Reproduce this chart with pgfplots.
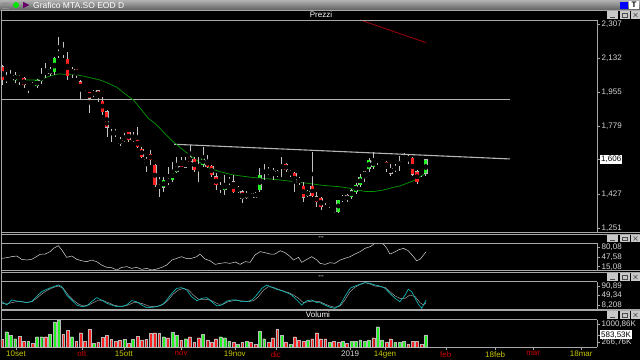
\documentclass[border=0pt]{standalone}
\usepackage{pgfplots}
\pgfplotsset{compat=1.18}
\usepackage{pgfplotstable}
\usepackage{fontspec}
\setmainfont{Liberation Sans}
\definecolor{frame}{HTML}{A8A8A8}
\definecolor{tickc}{HTML}{D8D8D8}
\definecolor{cgreen}{HTML}{22F022}
\definecolor{cred}{HTML}{FF2020}
\definecolor{wick}{HTML}{C4C4C4}
\definecolor{outl}{HTML}{B8B8B8}
\definecolor{mag}{HTML}{009A00}
\definecolor{ylw}{HTML}{C8C800}
\definecolor{mred}{HTML}{D00000}
\definecolor{cyanl}{HTML}{10C8C8}
\definecolor{grayl}{HTML}{A0A0A0}
\definecolor{trend}{HTML}{B4B4B4}
\definecolor{dred}{HTML}{A00010}
\definecolor{btn}{HTML}{C8C8C8}

\pgfplotstableread{
i o h l c v vc
0 2.088 2.095 1.993 2.019 402 0
1 2.022 2.062 2.003 2.025 706 1
2 2.014 2.070 2.010 2.018 562 1
3 2.019 2.062 2.003 2.045 426 1
4 2.040 2.045 1.993 2.019 534 0
5 2.027 2.036 1.976 1.993 334 0
6 1.983 2.000 1.950 1.996 334 1
7 1.991 2.010 1.976 1.989 243 0
8 1.988 2.024 1.978 2.019 506 1
9 2.014 2.079 2.000 2.040 506 1
10 2.062 2.105 2.029 2.050 506 0
11 2.053 2.086 2.040 2.076 602 1
12 2.062 2.136 2.043 2.131 1093 1
13 2.148 2.243 2.133 2.162 1172 1
14 2.162 2.217 2.133 2.158 602 0
15 2.126 2.165 2.019 2.040 762 0
16 2.055 2.086 2.029 2.071 506 1
17 2.074 2.076 2.029 2.050 334 0
18 2.010 2.019 1.920 1.963 666 0
19 1.953 1.967 1.940 1.951 334 0
20 1.955 1.958 1.848 1.924 801 0
21 1.944 1.967 1.932 1.958 243 1
22 1.963 1.967 1.906 1.932 295 0
23 1.910 1.932 1.838 1.855 482 0
24 1.855 1.863 1.724 1.774 574 0
25 1.779 1.786 1.700 1.776 402 0
26 1.751 1.763 1.725 1.739 334 0
27 1.708 1.722 1.677 1.691 362 0
28 1.704 1.743 1.700 1.722 402 1
29 1.748 1.751 1.700 1.708 243 0
30 1.704 1.751 1.700 1.722 402 1
31 1.708 1.777 1.665 1.673 534 0
32 1.662 1.673 1.614 1.622 375 0
33 1.610 1.622 1.544 1.588 402 0
34 1.636 1.656 1.579 1.605 642 0
35 1.579 1.582 1.466 1.475 666 0
36 1.497 1.518 1.415 1.487 630 0
37 1.463 1.518 1.441 1.501 506 1
38 1.501 1.567 1.475 1.492 466 0
39 1.501 1.596 1.492 1.544 690 1
40 1.544 1.619 1.539 1.570 562 1
41 1.596 1.619 1.567 1.570 375 0
42 1.567 1.622 1.562 1.591 426 1
43 1.619 1.682 1.594 1.596 506 0
44 1.608 1.622 1.544 1.553 269 0
45 1.571 1.622 1.492 1.569 466 0
46 1.579 1.673 1.567 1.613 602 1
47 1.605 1.630 1.562 1.570 375 0
48 1.574 1.579 1.518 1.527 295 0
49 1.518 1.535 1.449 1.475 426 0
50 1.456 1.492 1.432 1.466 506 1
51 1.449 1.527 1.423 1.480 466 1
52 1.494 1.518 1.475 1.496 334 1
53 1.492 1.527 1.432 1.441 269 0
54 1.441 1.470 1.436 1.458 203 1
55 1.441 1.449 1.380 1.406 269 0
56 1.411 1.444 1.401 1.432 309 1
57 1.423 1.432 1.406 1.415 269 0
58 1.411 1.441 1.406 1.432 203 0
59 1.449 1.562 1.441 1.527 734 1
60 1.542 1.584 1.501 1.544 426 1
61 1.548 1.570 1.527 1.536 269 0
62 1.532 1.562 1.501 1.553 466 0
63 1.544 1.553 1.516 1.527 801 0
64 1.569 1.622 1.518 1.571 574 1
65 1.582 1.588 1.544 1.553 295 0
66 1.544 1.553 1.518 1.532 203 1
67 1.536 1.544 1.441 1.487 506 0
68 1.499 1.518 1.475 1.497 375 0
69 1.470 1.492 1.389 1.411 334 0
70 1.418 1.449 1.415 1.444 375 1
71 1.470 1.648 1.415 1.418 426 0
72 1.415 1.440 1.363 1.389 666 0
73 1.408 1.413 1.346 1.363 426 0
74 1.352 1.380 1.342 1.350 426 0
75 1.376 1.389 1.354 1.378 269 1
76 1.346 1.357 1.330 1.352 334 0
77 1.337 1.400 1.330 1.398 295 0
78 1.413 1.423 1.385 1.398 334 1
79 1.398 1.430 1.385 1.420 243 0
80 1.415 1.455 1.405 1.446 334 1
81 1.440 1.487 1.430 1.475 334 1
82 1.475 1.530 1.465 1.517 375 1
83 1.522 1.550 1.490 1.544 309 1
84 1.557 1.615 1.540 1.605 375 1
85 1.570 1.648 1.560 1.601 466 0
86 1.606 1.620 1.580 1.608 905 1
87 1.625 1.630 1.605 1.613 375 1
88 1.593 1.600 1.540 1.567 295 0
89 1.562 1.585 1.520 1.536 426 0
90 1.557 1.585 1.540 1.567 269 1
91 1.575 1.625 1.550 1.596 295 1
92 1.605 1.640 1.600 1.613 334 1
93 1.619 1.630 1.585 1.608 203 0
94 1.613 1.620 1.520 1.531 334 0
95 1.544 1.555 1.480 1.492 334 0
96 1.498 1.520 1.490 1.510 203 0
97 1.536 1.610 1.520 1.606 584 1
}\cdata

\pgfplotsset{
  panel/.style={
    scale only axis, width=596pt,
    xmin=-0.229, xmax=136.22,
    axis y line*=right,
    axis line style={draw=frame, line width=0.6pt},
    yticklabel pos=right,
    tick align=outside, major tick length=3pt,
    ytick style={draw=frame, line width=0.5pt},
    yticklabel style={font=\fontsize{8}{9}\selectfont, text=tickc, inner sep=1.5pt},
    clip=true,
  },
  boxlab/.style={extra y tick style={yticklabel style={fill=white, text=black, inner sep=1pt}}},
}

\newcommand{\btns}[1]{%
  \fill[btn] (607pt,#1pt-3.8pt) rectangle (618pt,#1pt+3.8pt);
  \fill[btn] (619.5pt,#1pt-3.8pt) rectangle (629.5pt,#1pt+3.8pt);
  \fill[btn] (631pt,#1pt-3.8pt) rectangle (640pt,#1pt+3.8pt);
  \draw[black!70, line width=0.6pt] (610pt,#1pt-2pt) -- (615pt,#1pt-2pt);
  \draw[black!70, line width=0.5pt] (622pt,#1pt-2pt) rectangle (627pt,#1pt+1.5pt);
  \draw[black!70, line width=0.5pt] (633.5pt,#1pt-2pt) -- (637.5pt,#1pt+2pt) (633.5pt,#1pt+2pt) -- (637.5pt,#1pt-2pt);
}

\begin{document}
\begin{tikzpicture}
\path[use as bounding box] (0pt,0pt) rectangle (640pt,360pt);
\fill[black] (0pt,0pt) rectangle (640pt,360pt);

% ---------- Price panel ----------
\begin{axis}[panel, axis x line=none, at={(1pt,128pt)}, anchor=south west, height=212.2pt,
  ymin=1.2318, ymax=2.3303,
  ytick={1.251,1.427,1.779,1.955,2.132,2.307},
  yticklabels={{1,251},{1,427},{1,779},{1,955},{2,132},{2,307}},
  boxlab, extra y ticks={1.606}, extra y tick labels={1{,}606}]
  \addplot[trend, line width=0.9pt] coordinates {(-0.229,1.919) (116.3,1.919)};
  \addplot[trend, line width=1.1pt] coordinates {(39.4,1.686) (116.3,1.610)};
  \addplot[dred, line width=0.8pt] coordinates {(81.96,2.330) (97.07,2.212)};
  \addplot[mag, line width=0.7pt] coordinates {
    (0,2.024) (1.8,2.019) (4.1,2.019) (6.4,2.019) (7.9,2.019) (9.5,2.027) (11,2.039)
    (12.9,2.050) (14.8,2.048) (16.7,2.046) (18.6,2.039) (20.9,2.027) (22.4,2.019)
    (24,2.005) (26.3,1.981) (28.5,1.941) (30.1,1.915) (32,1.863) (33.5,1.820)
    (35,1.795) (36.9,1.751) (39.2,1.699) (41.5,1.656) (43.4,1.622) (45.3,1.591)
    (47.6,1.562) (49.9,1.544) (53,1.527) (56,1.518) (59.1,1.510) (62.1,1.505)
    (65.2,1.497) (68.2,1.489) (71.3,1.480) (72.8,1.475) (75.1,1.470) (77.4,1.466)
    (79.7,1.458) (81.2,1.449) (83.5,1.441) (85,1.441) (87.3,1.449) (89.6,1.463)
    (91.1,1.470) (92.7,1.484) (94.2,1.497) (95.7,1.518) (97.1,1.536)};
  \addplot[only marks, mark=none, error bars/.cd, y dir=both, y explicit,
    error mark=none, error bar style={draw=wick, line width=0.6pt}]
    table[x=i, y expr={(\thisrow{h}+\thisrow{l})/2}, y error expr={(\thisrow{h}-\thisrow{l})/2}] {\cdata};
  \addplot[only marks, mark=none, error bars/.cd, y dir=both, y explicit,
    error mark=none, error bar style={draw=outl, line width=3.7pt}]
    table[x=i, y expr={(\thisrow{o}+\thisrow{c})/2}, y error expr={max(abs(\thisrow{c}-\thisrow{o})/2,0.0016)+0.0016}] {\cdata};
  \addplot[only marks, mark=none, restrict expr to domain={\thisrow{c}-\thisrow{o}}{0:1},
    error bars/.cd, y dir=both, y explicit,
    error mark=none, error bar style={draw=cgreen, line width=3.1pt}]
    table[x=i, y expr={(\thisrow{o}+\thisrow{c})/2}, y error expr={max(abs(\thisrow{c}-\thisrow{o})/2,0.0016)}] {\cdata};
  \addplot[only marks, mark=none, restrict expr to domain={\thisrow{c}-\thisrow{o}}{-1:-0.00001},
    error bars/.cd, y dir=both, y explicit,
    error mark=none, error bar style={draw=cred, line width=3.1pt}]
    table[x=i, y expr={(\thisrow{o}+\thisrow{c})/2}, y error expr={max(abs(\thisrow{c}-\thisrow{o})/2,0.0016)}] {\cdata};
\end{axis}

% ---------- Oscillator panel 1 ----------
\begin{axis}[panel, axis x line=none, at={(1pt,89.3pt)}, anchor=south west, height=27.4pt,
  ymin=1.5, ymax=95.1,
  ytick={15.08,47.58,80.08}, yticklabels={{15,08},{47,58},{80,08}}]
  \addplot[tickc, line width=0.5pt] coordinates {
    (0,43.7) (1.1,46.0) (2.2,49.4) (3.4,51.7) (4.5,40.3) (5.6,38.0) (6.8,40.3) (7.9,49.4)
    (8.7,57.4) (9.9,58.5) (11.0,66.5) (11.8,77.9) (12.9,87.0) (13.7,72.2) (14.8,47.1)
    (16.0,51.7) (17.1,40.3) (18.2,35.7) (19.4,32.3) (20.5,38.0) (21.7,32.3) (22.8,20.9)
    (24.0,12.9) (25.1,11.8) (26.3,3.8) (27.4,12.9) (28.6,15.2) (29.7,9.5) (30.8,12.9)
    (32.0,6.1) (33.1,9.5) (34.3,3.8) (35.4,7.2) (36.6,12.9) (37.7,20.9) (38.9,38.0)
    (40.0,43.7) (41.1,49.4) (42.3,42.6) (43.4,43.7) (44.6,49.4) (45.3,58.5) (46.5,41.4)
    (47.6,35.7) (48.8,23.2) (49.9,26.6) (51.1,28.9) (52.2,26.6) (53.4,31.2) (54.5,23.2)
    (55.7,32.3) (56.8,30.0) (57.9,55.1) (59.1,66.5) (60.2,63.1) (61.4,58.5) (62.5,58.5)
    (63.7,69.9) (64.8,63.1) (66.0,49.4) (66.7,38.0) (67.9,47.1) (68.6,30.0) (69.8,40.3)
    (70.9,49.4) (72.1,38.0) (72.8,26.6) (74.0,23.2) (75.1,28.9) (76.2,26.6) (77.4,38.0)
    (78.5,43.7) (79.7,49.4) (80.8,58.5) (82.0,66.5) (83.1,77.9) (84.3,83.6) (85.4,95.0)
    (86.5,95.0) (87.3,92.7) (88.1,77.9) (88.8,58.5) (89.6,63.1) (90.7,72.2) (91.9,77.9)
    (93.0,69.9) (94.2,49.4) (94.9,35.7) (95.7,40.3) (96.5,55.1) (97.1,66.5)};
\end{axis}

% ---------- Oscillator panel 2 ----------
\begin{axis}[panel, axis x line=none, at={(1pt,51pt)}, anchor=south west, height=27.3pt,
  ymin=-9.7, ymax=109.6,
  ytick={7.79,49.34,90.89}, yticklabels={{8,208},{49,34},{90,89}}]
  \addplot[grayl, line width=0.5pt] coordinates {
    (0,15.1) (1.1,12.1) (2.2,18.0) (3.4,22.3) (4.5,22.3) (5.6,19.4) (6.8,22.3) (7.9,36.9)
    (9.1,55.9) (10.2,70.4) (11.8,85.0) (12.9,90.8) (14.0,80.6) (15.2,51.5) (16.3,29.6)
    (17.5,12.1) (18.6,3.4) (19.8,7.8) (20.9,18.0) (22.1,29.6) (23.2,26.7) (24.35,18.0)
    (25.5,7.8) (26.6,3.4) (27.8,3.4) (28.9,7.8) (30.1,18.0) (31.2,18.0) (32.4,12.1)
    (33.5,3.4) (34.7,0.5) (35.8,3.4) (37.0,12.1) (38.1,29.6) (39.2,55.9) (40.4,73.3)
    (41.5,80.6) (42.7,73.3) (43.8,51.5) (45.0,32.5) (46.1,32.5) (47.3,32.5) (48.4,22.3)
    (49.5,12.1) (50.7,12.1) (51.8,22.3) (53.0,26.7) (54.1,26.7) (55.3,25.2) (56.4,22.3)
    (57.6,26.7) (58.7,44.2) (59.9,73.3) (61.0,87.9) (62.1,85.0) (63.3,76.3) (64.4,69.0)
    (65.6,61.7) (66.7,51.5) (67.9,36.9) (69.0,18.0) (70.2,22.3) (71.3,25.2) (72.8,22.3)
    (73.9,12.1) (75.1,3.4) (76.2,-2.4) (77.4,3.4) (78.5,29.6) (79.7,66.1) (80.8,85.0)
    (82.0,98.1) (83.1,105.4) (84.3,99.6) (85.4,90.8) (86.5,87.9) (87.7,85.0) (88.8,66.1)
    (90.0,47.1) (91.1,36.9) (92.3,36.9) (93.4,51.5) (94.6,44.2) (95.7,18.0) (96.5,7.8)
    (97.1,18.0)};
  \addplot[cyanl, line width=0.6pt] coordinates {
    (0,22.3) (1.1,7.8) (2.2,29.6) (3.4,25.2) (4.5,22.3) (5.6,18.0) (6.8,22.3) (7.9,44.2)
    (9.1,66.1) (10.2,76.3) (11.8,87.9) (12.9,95.2) (13.7,87.9) (14.8,51.5) (15.95,29.6)
    (17.1,7.8) (18.2,0.5) (19.4,3.4) (20.5,22.3) (21.7,39.8) (22.8,29.6) (24.0,15.1)
    (25.1,7.8) (26.3,0.5) (27.4,0.5) (28.5,7.8) (29.7,26.7) (30.8,22.3) (32.0,7.8)
    (33.1,-3.9) (34.3,-2.4) (35.4,0.5) (36.6,7.8) (37.7,29.6) (38.9,58.8) (40.0,80.6)
    (41.1,83.5) (42.3,73.3) (43.4,44.2) (44.6,26.7) (45.7,36.9) (46.9,39.8) (48.0,22.3)
    (49.2,3.4) (50.3,7.8) (51.5,25.2) (52.6,29.6) (53.7,29.6) (54.9,22.3) (56.0,22.3)
    (57.2,29.6) (58.3,51.5) (59.5,80.6) (60.6,95.2) (61.8,85.0) (62.9,76.3) (64.0,70.4)
    (65.2,61.7) (66.3,51.5) (67.5,29.6) (68.6,7.8) (69.8,26.7) (70.9,29.6) (72.1,18.0)
    (72.8,18.0) (73.9,7.8) (75.1,-2.4) (76.2,-6.8) (77.4,7.8) (78.5,44.2) (79.7,80.6)
    (80.8,90.8) (82.0,98.1) (83.1,105.4) (84.3,102.5) (85.4,95.2) (86.5,90.8) (87.7,80.6)
    (88.8,58.8) (90.0,36.9) (91.1,22.3) (92.3,51.5) (93.0,76.3) (93.8,66.1) (94.6,36.9)
    (95.3,12.1) (96.1,-6.8) (97.1,29.6)};
\end{axis}

% ---------- Volume panel ----------
\begin{axis}[panel, at={(1pt,13pt)}, anchor=south west, height=27.5pt,
  ymin=95.2, ymax=1192.4,
  axis x line*=bottom,
  xtick={3.2,18.3,27.9,41,53.3,62.7,79.7,87.7,101.6,112.9,121.6,132.6},
  xticklabels={\textcolor{ylw}{10set},\textcolor{mred}{ott},\textcolor{ylw}{15ott},
    \textcolor{mred}{nov},\textcolor{ylw}{19nov},\textcolor{mred}{dic},\textcolor{tickc}{2019},
    \textcolor{ylw}{14gen},\textcolor{mred}{feb},\textcolor{ylw}{18feb},\textcolor{mred}{mar},
    \textcolor{ylw}{18mar}},
  xtick style={draw=frame, line width=0.5pt}, 
  xticklabel style={font=\fontsize{8}{9}\selectfont, inner sep=1pt},
  ytick={266.76,1000.86}, yticklabels={{266,76K},{1000,86K}},
  boxlab, extra y ticks={583.53}, extra y tick labels={583{,}53K}]
  \addplot[ybar, bar shift=0pt, bar width=2.8pt, fill=cgreen, draw=outl, line width=0.35pt,
    restrict expr to domain={\thisrow{vc}}{0.5:1.5}]
    table[x=i, y=v] {\cdata};
  \addplot[ybar, bar shift=0pt, bar width=2.8pt, fill=cred, draw=outl, line width=0.35pt,
    restrict expr to domain={\thisrow{vc}}{-0.5:0.5}]
    table[x=i, y=v] {\cdata};
\end{axis}

% ---------- frames and headers ----------
\shade[top color=black!30, bottom color=black!62] (0pt,350pt) rectangle (640pt,360pt);
\draw[black!45, line width=0.6pt] (2pt,352pt) -- (9pt,352pt) (2pt,354.5pt) -- (9pt,354.5pt) (2pt,357pt) -- (9pt,357pt);
\fill[green!90!black] (16pt,355pt) circle (3pt);
\fill[violet!80!black] (23pt,351.8pt) -- (23pt,358.2pt) -- (29.5pt,355pt) -- cycle;
\node[anchor=west, text=white, inner sep=0pt, font=\fontsize{8.5}{9}\selectfont] at (33pt,355pt) {Grafico MTA.SO EOD D};
\fill[blue] (620pt,351.5pt) rectangle (627.5pt,358.5pt);
\fill[white] (629pt,351pt) rectangle (639pt,359pt);
\node[text=black, inner sep=0pt, font=\fontsize{8}{9}\selectfont\bfseries] at (634pt,355pt) {T};

\draw[frame, line width=0.6pt] (1pt,349.5pt) -- (640pt,349.5pt);
\draw[frame, line width=0.6pt] (1pt,340.2pt) -- (597pt,340.2pt);
\draw[frame, line width=0.6pt] (1pt,128pt) -- (640pt,128pt);
\draw[frame, line width=0.6pt] (1pt,126.2pt) -- (640pt,126.2pt);
\draw[frame, line width=0.6pt] (1pt,116.7pt) -- (597pt,116.7pt);
\draw[frame, line width=0.6pt] (1pt,89.3pt) -- (640pt,89.3pt);
\draw[frame, line width=0.6pt] (1pt,87.8pt) -- (640pt,87.8pt);
\draw[frame, line width=0.6pt] (1pt,78.3pt) -- (597pt,78.3pt);
\draw[frame, line width=0.6pt] (1pt,51pt) -- (640pt,51pt);
\draw[frame, line width=0.6pt] (1pt,49.5pt) -- (640pt,49.5pt);
\draw[frame, line width=0.6pt] (1pt,40.5pt) -- (597pt,40.5pt);
\draw[frame, line width=0.6pt] (1pt,13pt) -- (1pt,349.5pt);

\node[text=white, inner sep=0pt, font=\fontsize{8}{9}\selectfont] at (321pt,345pt) {Prezzi};
\node[text=white, inner sep=0pt, font=\fontsize{8}{9}\selectfont] at (321pt,121.5pt) {{-}{-}};
\node[text=white, inner sep=0pt, font=\fontsize{8}{9}\selectfont] at (321pt,83pt) {{-}{-}};
\node[text=white, inner sep=0pt, font=\fontsize{8}{9}\selectfont] at (318pt,45pt) {Volumi};
\btns{345}
\btns{121.5}
\btns{83}
\btns{45}
\end{tikzpicture}
\end{document}
